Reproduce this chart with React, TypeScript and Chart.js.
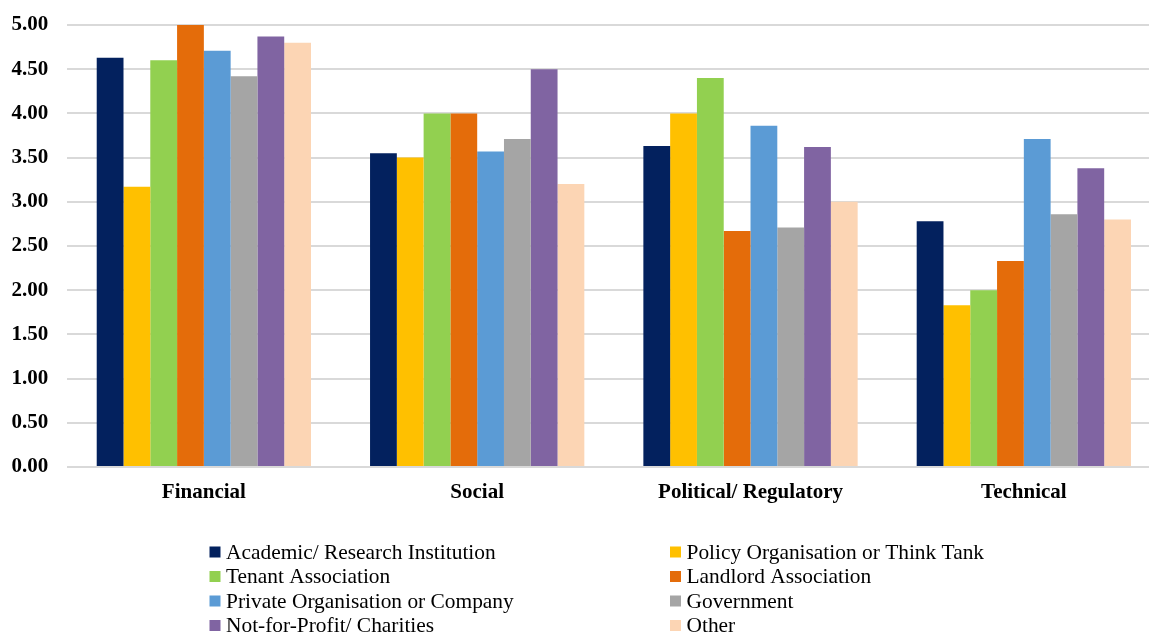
import React, { useEffect, useRef } from "react";
import { Chart, registerables } from "chart.js";

Chart.register(...registerables);

// Barrier categories along the x axis
const categories = ["Financial", "Social", "Political/ Regulatory", "Technical"];

// Mean scores per stakeholder type, one value per category
const academic = [4.63, 3.55, 3.63, 2.78];
const policyOrg = [3.17, 3.5, 4.0, 1.83];
const tenantAssoc = [4.6, 4.0, 4.4, 2.0];
const landlordAssoc = [5.0, 4.0, 2.67, 2.33];
const privateOrg = [4.71, 3.57, 3.86, 3.71];
const government = [4.42, 3.71, 2.71, 2.86];
const notForProfit = [4.87, 4.5, 3.62, 3.38];
const other = [4.8, 3.2, 3.0, 2.8];

const seriesLabels = [
  "Academic/ Research Institution",
  "Policy Organisation or Think Tank",
  "Tenant Association",
  "Landlord Association",
  "Private Organisation or Company",
  "Government",
  "Not-for-Profit/ Charities",
  "Other",
];
const seriesValues = [academic, policyOrg, tenantAssoc, landlordAssoc, privateOrg, government, notForProfit, other];
const seriesColors = ["#03215E", "#FFC000", "#92D050", "#E46C0A", "#5B9BD5", "#A5A5A5", "#8064A2", "#FCD5B4"];

// Y axis range and tick step
const yMin = 0;
const yMax = 5;
const yStep = 0.5;

const SERIF = "'Liberation Serif', 'Times New Roman', serif";

// Two-column legend drawn below the plot
const twoColumnLegend = {
  id: "twoColumnLegend",
  afterDraw(chart: any) {
    const ctx = chart.ctx as CanvasRenderingContext2D;
    const colBoxX = [209.5, 670];
    const rowY0 = 552;
    const rowGap = 24.5;
    const box = 11;
    ctx.save();
    ctx.font = `21.4px ${SERIF}`;
    ctx.textBaseline = "middle";
    ctx.textAlign = "left";
    chart.data.datasets.forEach((ds: any, i: number) => {
      const col = i % 2;
      const row = Math.floor(i / 2);
      const cy = rowY0 + row * rowGap;
      const bx = colBoxX[col];
      ctx.fillStyle = ds.backgroundColor;
      ctx.fillRect(bx, cy - box / 2, box, box);
      ctx.fillStyle = "#000";
      ctx.fillText(ds.label, bx + box + 5.5, cy + 1);
    });
    ctx.restore();
  },
};

export default function App() {
  const canvasRef = useRef<HTMLCanvasElement | null>(null);

  useEffect(() => {
    if (!canvasRef.current) return;
    const chart = new Chart(canvasRef.current, {
      type: "bar",
      data: {
        labels: categories,
        datasets: seriesLabels.map((label, i) => ({
          label,
          data: seriesValues[i],
          backgroundColor: seriesColors[i],
          borderWidth: 0,
          barPercentage: 1,
          categoryPercentage: 0.784,
        })),
      },
      options: {
        animation: false,
        responsive: false,
        devicePixelRatio: 1,
        layout: { padding: { top: 25, left: 0, right: 4.5, bottom: 106 } },
        plugins: {
          legend: { display: false },
          tooltip: { enabled: false },
        },
        scales: {
          x: {
            grid: { display: false, drawTicks: false },
            border: { display: false },
            ticks: {
              color: "#000",
              padding: 13,
              maxRotation: 0,
              autoSkip: false,
              font: { family: SERIF, size: 21, weight: "bold" },
            },
            afterFit(scale: any) {
              scale.height = 60;
              scale.paddingLeft = 0;
              scale.paddingRight = 0;
            },
          },
          y: {
            min: yMin,
            max: yMax,
            grid: { color: "#D9D9D9", lineWidth: 2, drawTicks: false },
            border: { display: false },
            ticks: {
              stepSize: yStep,
              color: "#000",
              padding: 19,
              font: { family: SERIF, size: 21, weight: "bold" },
              callback: (v: any) => Number(v).toFixed(2),
            },
            afterFit(scale: any) {
              scale.width = 67.2;
              scale.paddingTop = 0;
              scale.paddingBottom = 0;
            },
          },
        },
      },
      plugins: [twoColumnLegend],
    });
    return () => chart.destroy();
  }, []);

  return (
    <div style={{ position: "absolute", left: 0, top: 0, width: 1149, height: 633, overflow: "hidden", background: "#fff" }}>
      <canvas ref={canvasRef} width={1165} height={633} style={{ display: "block" }} />
    </div>
  );
}
